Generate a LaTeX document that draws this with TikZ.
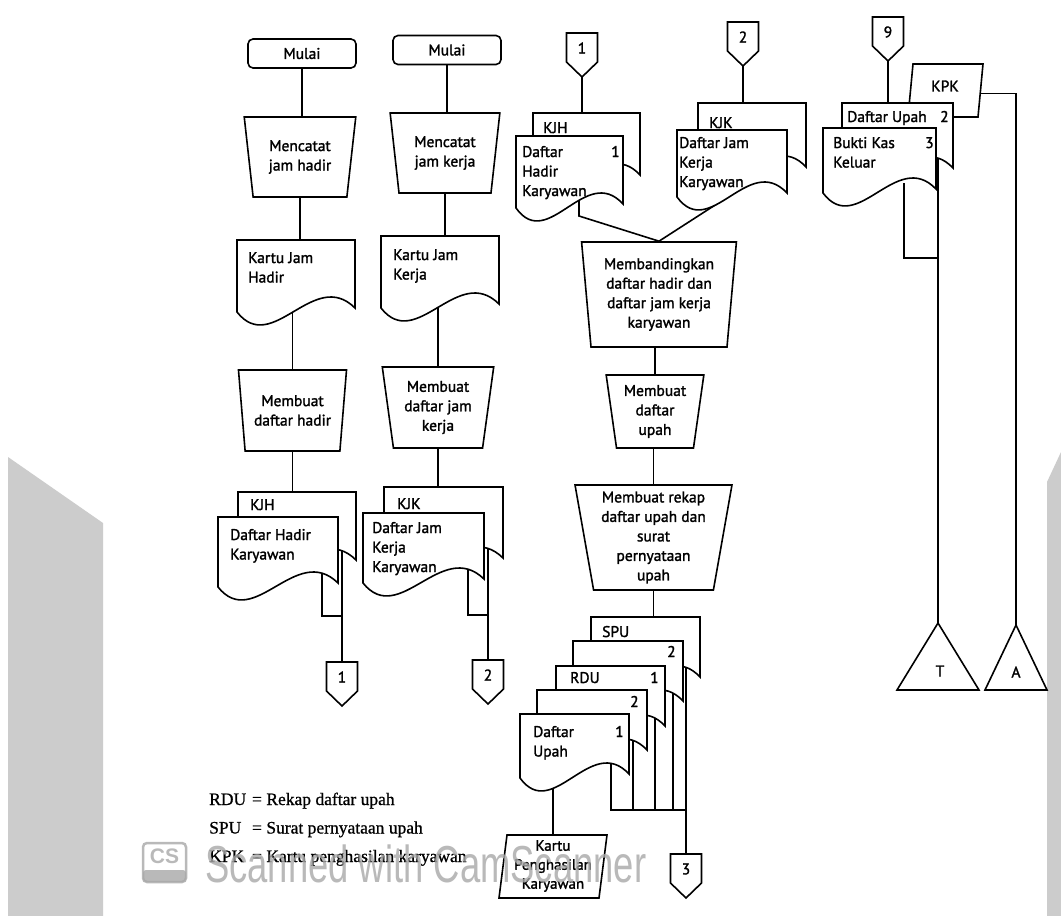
\documentclass[tikz,border=0pt]{standalone}
\usepackage{fontspec}
\usepackage{graphicx}
\setmainfont{PT Sans}[FakeBold=1.6]
\newfontfamily\legendfont{Liberation Serif}[FakeBold=0.8]
\newfontfamily\wmfont{Liberation Sans}
\usetikzlibrary{shapes.geometric,calc}
\pgfdeclarelayer{back}
\pgfdeclarelayer{bg}
\pgfsetlayers{back,bg,main}
\definecolor{wm}{gray}{0.66}
\definecolor{pagegray}{gray}{0.8}
\tikzset{
  shp/.style={draw=black, line width=1.6pt, fill=white, line join=miter},
  conn/.style={draw=black, line width=1.6pt},
  lbl/.style={font=\fontsize{15.5}{19.5}\selectfont, inner sep=0pt},
  startbox/.style={shp, rounded corners=5pt, minimum width=108pt, minimum height=29pt, lbl},
  procbox/.style={shp, trapezium, shape border rotate=180, trapezium stretches=true, align=center, lbl},
  ghost/.style={inner sep=0pt, outer sep=0pt, draw=none},
  doctext/.style={lbl, anchor=base west},
}
% document symbol: name, x1, ytop, x2, yleftbottom
\newcommand\docu[5]{%
  \path[shp] (#2,#3) -- (#4,#3) -- (#4,{#5-4}) .. controls ({#2+0.65*(#4-#2)},{#5-45}) and ({#2+0.3*(#4-#2)},{#5+45}) .. (#2,#5) -- cycle;
  \node[ghost, minimum width={#4-#2}, minimum height={#5-#3}, anchor=north west] (#1) at (#2,#3) {};
}
% off-page connector: name, cx, ytop, label
\newcommand\offpg[4]{%
  \path[shp] ({#2-15.5},#3) -- ({#2+15.5},#3) -- ({#2+15.5},{#3+29}) -- (#2,{#3+44}) -- ({#2-15.5},{#3+29}) -- cycle;
  \node[ghost, minimum width=31, minimum height=44, anchor=north] (#1) at (#2,#3) {};
  \node[lbl] (#1-l) at (#2,{#3+15}) {#4};
}
% file triangle: name, apex x, apex y, half width, base y
\newcommand\filetri[5]{%
  \path[shp] (#2,#3) -- ({#2+#4},#5) -- ({#2-#4},#5) -- cycle;
  \node[ghost, minimum width={2*#4}, minimum height={#5-#3}, anchor=north] (#1) at (#2,#3) {};
}
% card (parallelogram): name, top-left x, top y, side width, height, slant
\newcommand\card[6]{%
  \path[shp] (#2,#3) -- ({#2+#4},#3) -- ({#2+#4-#6},{#3+#5}) -- ({#2-#6},{#3+#5}) -- cycle;
  \node[ghost, minimum width={#4+#6}, minimum height={#5}, anchor=north west] (#1) at ({#2-#6},#3) {};
}
\newcommand\ml[1]{\begin{tabular}[t]{@{}l@{}}#1\end{tabular}}
\begin{document}
\begin{tikzpicture}[x=1pt,y=-1pt]
\useasboundingbox (0,0) rectangle (1061,916);
\begin{pgfonlayer}{back}
  \fill[white] (0,0) rectangle (1061,916);
  \fill[pagegray] (8,457) -- (103,523) -- (103,916) -- (8,916) -- cycle;
  \fill[pagegray] (1047,482) -- (1061,452) -- (1061,916) -- (1047,916) -- cycle;
\end{pgfonlayer}

% ---------- column 1 ----------
\node[startbox] (m1) at (302,53.5) {Mulai};
\node[procbox, trapezium left angle=80, trapezium right angle=80, minimum width=112, minimum height=80] (t1) at (300,157) {Mencatat\\jam hadir};
\docu{d1}{237}{240}{355}{312}
\node[doctext] (d1-t) at (248,263) {\ml{Kartu Jam\\Hadir}};
\node[procbox, trapezium left angle=80, trapezium right angle=80, minimum width=109, minimum height=81] (t3) at (292.5,410.5) {Membuat\\daftar hadir};
\docu{kjhB}{238}{492}{356}{564}
\node[doctext] (kjhB-t) at (250,510) {KJH};
\docu{kjhF}{218}{517}{338}{587}
\node[doctext] (kjhF-t) at (230,540) {\ml{Daftar Hadir\\Karyawan}};
\offpg{c1}{342}{662}{1}

% ---------- column 2 ----------
\node[startbox] (m2) at (447,50) {Mulai};
\node[procbox, trapezium left angle=80, trapezium right angle=80, minimum width=110, minimum height=80] (t2) at (445,153) {Mencatat\\jam kerja};
\docu{d2}{381}{236}{499}{308}
\node[doctext] (d2-t) at (393,260) {\ml{Kartu Jam\\Kerja}};
\node[procbox, trapezium left angle=81, trapezium right angle=81, minimum width=112, minimum height=81] (t4) at (438,407.5) {Membuat\\daftar jam\\kerja};
\docu{kjkB}{384}{487}{503}{562}
\node[doctext] (kjkB-t) at (397,509) {KJK};
\docu{kjkF}{363}{513}{484}{583}
\node[doctext] (kjkF-t) at (372,533) {\ml{Daftar Jam\\Kerja\\Karyawan}};
\offpg{c2}{488}{660}{2}

% ---------- column 3 ----------
\offpg{c1b}{582}{33}{1}
\docu{kjh2B}{533}{113}{640}{179}
\node[doctext] (kjh2B-t) at (543,133) {KJH};
\docu{kjh2F}{516}{136}{623}{208}
\node[doctext] (kjh2F-t) at (522,157) {\ml{Daftar\\Hadir\\Karyawan}};
\node[doctext] (kjh2F-n) at (611,157) {1};
\offpg{c2b}{743}{22}{2}
\docu{kjk2B}{698}{103}{806}{171}
\node[doctext] (kjk2B-t) at (709,128) {KJK};
\docu{kjk2F}{677}{130}{787}{197}
\node[doctext] (kjk2F-t) at (679,148) {\ml{Daftar Jam\\Kerja\\Karyawan}};
\node[procbox, trapezium left angle=84, trapezium right angle=84, minimum width=155, minimum height=105] (t5) at (659,294.5) {Membandingkan\\daftar hadir dan\\daftar jam kerja\\karyawan};
\node[procbox, trapezium left angle=81, trapezium right angle=81, minimum width=98, minimum height=73] (t6) at (655,411.5) {Membuat\\daftar\\upah};
\node[procbox, trapezium left angle=80, trapezium right angle=80, minimum width=157, minimum height=105] (t7) at (653.5,537.5) {Membuat rekap\\daftar upah dan\\surat\\pernyataan\\upah};
\docu{spu}{591}{617}{700}{681}
\node[doctext] (spu-t) at (602,637) {SPU};
\docu{d2a}{573}{641}{683}{705}
\node[doctext] (d2a-n) at (667,657) {2};
\docu{rdu}{556}{666}{665}{730}
\node[doctext] (rdu-t) at (570,683) {RDU};
\node[doctext] (rdu-n) at (650,683) {1};
\docu{d2b}{537}{690}{647}{754}
\node[doctext] (d2b-n) at (630,707) {2};
\docu{du}{520}{714}{629}{778}
\node[doctext] (du-t) at (533,737) {\ml{Daftar\\Upah}};
\node[doctext] (du-n) at (615,737) {1};
\card{kp}{507}{835}{100}{63}{8}
\node[lbl, align=center, font=\fontsize{15}{19}\selectfont] (kp-t) at (553,866) {Kartu\\Penghasilan\\Karyawan};
\offpg{c3}{686}{854}{3}

% ---------- column 4 ----------
\offpg{c9}{888}{17}{9}
\card{kpk}{913}{64}{70}{53}{5}
\node[lbl] (kpk-t) at (945,86) {KPK};
\docu{duB}{842}{103}{953}{172}
\node[doctext] (duB-t) at (847,122) {Daftar Upah};
\node[doctext] (duB-n) at (940,122) {2};
\docu{bkk}{823}{128}{936}{193}
\node[doctext] (bkk-t) at (833,148) {\ml{Bukti Kas\\Keluar}};
\node[doctext] (bkk-n) at (925,148) {3};
\filetri{tT}{938}{623}{41}{690}
\node[lbl] (tT-l) at (940,671) {T};
\filetri{tA}{1016}{625}{31}{690}
\node[lbl] (tA-l) at (1016,672) {A};

% ---------- connectors ----------
\begin{pgfonlayer}{bg}
  \draw[conn] (m1.south) -- (m1.south |- t1.north);
  \draw[conn] (t1.south) -- (t1.south |- d1.north);
  \draw[conn] (t3.north |- d1.center) -- (t3.north);
  \draw[conn] (t3.south) -- (t3.south |- kjhB.north);
  \draw[conn] (kjhB.center -| c1.north) -- (c1.north);
  \draw[conn] ($(kjhF.east)+(-16,0)$) |- ($(c1.north)+(0,-46)$);

  \draw[conn] (m2.south) -- (m2.south |- t2.north);
  \draw[conn] (t2.south) -- (t2.south |- d2.north);
  \draw[conn] (t4.north |- d2.center) -- (t4.north);
  \draw[conn] (t4.south) -- (t4.south |- kjkB.north);
  \draw[conn] (kjkB.center -| c2.north) -- (c2.north);
  \draw[conn] ($(kjkF.east)+(-16,0)$) |- ($(c2.north)+(0,-45)$);

  \draw[conn] (c1b.south) -- (c1b.south |- kjh2B.north);
  \draw[conn] (c2b.south) -- (c2b.south |- kjk2B.north);
  \draw[conn] ($(kjh2F.south west)+(63,-20)$) -- ($(kjh2F.south west)+(63,8)$) -- (t5.north);
  \draw[conn] ($(kjk2F.south west)+(63,-8)$) -- (t5.north);
  \draw[conn] (t6.north |- t5.south) -- (t6.north);
  \draw[conn] (t7.north |- t6.south) -- (t7.north);
  \draw[conn] (t7.south) -- (t7.south |- spu.north);

  \coordinate (hl) at ($(c3.north)+(0,-44)$);
  \draw[conn] ($(du.east)+(-18,0)$) |- (hl);
  \draw[conn] ($(d2b.east)+(-14,0)$) |- (hl);
  \draw[conn] ($(rdu.east)+(-10,0)$) |- (hl);
  \draw[conn] ($(d2a.east)+(-10,0)$) |- (hl);
  \draw[conn] (spu.center -| c3.north) -- (c3.north);
  \draw[conn] (du.center -| kp.north) -- (kp.north);
  \draw[conn] ($(kp.center)+(0,-23.5)$) -- ($(kp.center)+(0,-23.5)$ -| c3.north);

  \draw[conn] (c9.south) -- (c9.south |- duB.north);
  \draw[conn] ($(kpk.center)+(0,3)$) -| (tA.north);
  \draw[conn] ($(bkk.south west)+(81,-10)$) |- ($(tT.north)+(0,-365)$);
  \draw[conn] (duB.center -| tT.north) -- (tT.north);
\end{pgfonlayer}

% ---------- legend ----------
\node[anchor=base west, inner sep=0pt, font=\legendfont\fontsize{17.5}{28.5}\selectfont] (legend) at (209,805)
  {\begin{tabular}[t]{@{}l@{\hspace{6pt}}l@{}}RDU & = Rekap daftar upah\\ SPU & = Surat pernyataan upah\\ KPK & = Kartu penghasilan karyawan\end{tabular}};

% ---------- scanner watermark ----------
\begin{scope}[opacity=0.8]
\draw[wm, line width=2.5pt, rounded corners=4pt] (143,843) rectangle (186,882);
\fill[wm, rounded corners=3pt] (143,870) rectangle (186,882);
\node[text=wm, inner sep=0pt, font=\wmfont\bfseries\fontsize{21}{21}\selectfont] (wmcs) at (164.5,856) {CS};
\node[anchor=base west, inner sep=0pt, text=wm] (wmtext) at (205,882)
  {\scalebox{0.7}[1]{\wmfont\fontsize{52}{52}\selectfont Scanned with CamScanner}};
\end{scope}
\end{tikzpicture}
\end{document}
